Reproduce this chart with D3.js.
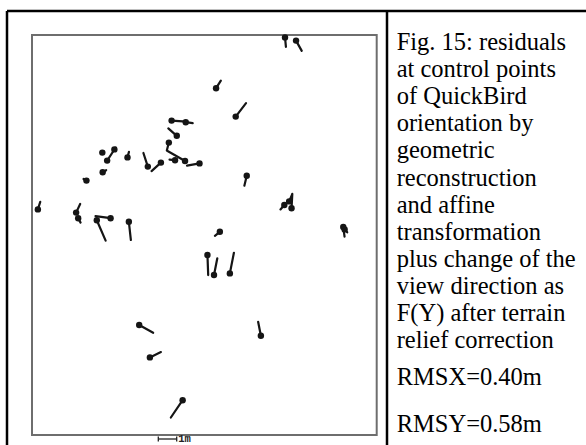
<!DOCTYPE html>
<html>
<head>
<meta charset="utf-8">
<script src="https://cdn.jsdelivr.net/npm/d3@7"></script>
<style>
  html, body { margin: 0; padding: 0; background: #fff; }
  svg { display: block; }
</style>
</head>
<body>
<script>
// ---- Data (image coordinates 0..1000, residuals in metres, N positive up) ----
const pointX = [734, 766, 534, 591, 405, 446, 420, 397, 444, 415, 486, 204, 218, 239, 277, 336, 374, 205, 158, 17, 128, 134, 188, 228, 281, 623, 753, 732, 746, 903, 907, 545, 509, 528, 574, 311, 342, 437, 664];
const pointY = [6, 14, 133, 204, 214, 218, 252, 269, 315, 313, 321, 294, 314, 286, 306, 329, 319, 343, 364, 436, 444, 458, 463, 458, 467, 352, 433, 425, 416, 480, 486, 492, 550, 600, 596, 725, 806, 913, 752];
const residX = [0.05, 0.31, 0.26, 0.56, 0.61, 0.38, -0.46, -0.11, -0.95, -0.30, -0.68, 0.09, 0.36, 0.08, 0.08, -0.24, -0.51, 0.19, -0.16, 0.13, 0.22, 0.13, 0.48, -0.82, 0.11, -0.13, 0.04, -0.21, 0.15, 0.07, 0.14, -0.27, 0.04, 0.18, 0.22, 0.76, 0.60, -0.64, -0.15];
const residY = [-0.51, -0.56, 0.41, 0.73, -0.04, -0.05, 0.40, -0.43, 0.54, 0.03, -0.12, 0.05, 0.55, 0.10, 0.30, 0.74, -0.46, 0.11, 0.09, 0.41, 0.47, -0.24, -1.11, 0.11, -0.99, -0.54, 0.78, -0.24, 0.35, -0.52, -0.16, -0.22, -1.09, 0.91, 1.12, -0.42, 0.29, -0.94, 0.76];
const scaleBarMetres = 1;
const scaleBarLabel = "1m";
const captionLines = [
  "Fig. 15: residuals",
  "at control points",
  "of QuickBird",
  "orientation by",
  "geometric",
  "reconstruction",
  "and affine",
  "transformation",
  "plus change of the",
  "view direction as",
  "F(Y) after terrain",
  "relief correction"
];
const rmsLines = ["RMSX=0.40m", "RMSY=0.58m"];

// ---- Layout ----
const W = 586, H = 445;
const plot = { left: 32, top: 35, right: 376.7, bottom: 435 };

const svg = d3.select("body").append("svg")
  .attr("width", W).attr("height", H);

svg.append("rect").attr("width", W).attr("height", H).attr("fill", "#fff");

// Outer table frame
const frame = svg.append("g").attr("stroke", "#000").attr("stroke-width", 2.5);
frame.append("line").attr("x1", 7).attr("x2", W).attr("y1", 11).attr("y2", 11);
frame.append("line").attr("x1", 7).attr("x2", 7).attr("y1", 11).attr("y2", H);
frame.append("line").attr("x1", 387).attr("x2", 387).attr("y1", 11).attr("y2", H);

// Scales
const x = d3.scaleLinear().domain([0, 1000]).range([plot.left, plot.right]);
const y = d3.scaleLinear().domain([0, 1000]).range([plot.top, plot.bottom]);
const vec = d3.scaleLinear().domain([0, 1]).range([0, 18.4]);

// Plot box
svg.append("rect")
  .attr("x", plot.left).attr("y", plot.top)
  .attr("width", plot.right - plot.left).attr("height", plot.bottom - plot.top)
  .attr("fill", "none").attr("stroke", "#6e6e6e").attr("stroke-width", 2);

const pts = pointX.map((px, i) => ({ x: px, y: pointY[i], dx: residX[i], dy: residY[i] }));

const g = svg.append("g");
g.selectAll("line.res").data(pts).join("line")
  .attr("class", "res")
  .attr("x1", d => x(d.x)).attr("y1", d => y(d.y))
  .attr("x2", d => x(d.x) + vec(d.dx)).attr("y2", d => y(d.y) - vec(d.dy))
  .attr("stroke", "#151515").attr("stroke-width", 2.2).attr("stroke-linecap", "round");
g.selectAll("circle.pt").data(pts).join("circle")
  .attr("class", "pt")
  .attr("cx", d => x(d.x)).attr("cy", d => y(d.y)).attr("r", 3.2)
  .attr("fill", "#151515");

// Scale bar
const sbX = 158.3, sbY = 439;
const sb = svg.append("g").attr("stroke", "#222").attr("stroke-width", 1.3);
sb.append("line").attr("x1", sbX).attr("x2", sbX + vec(scaleBarMetres)).attr("y1", sbY).attr("y2", sbY);
sb.append("line").attr("x1", sbX).attr("x2", sbX).attr("y1", sbY - 2.5).attr("y2", sbY + 2.5);
sb.append("line").attr("x1", sbX + vec(scaleBarMetres)).attr("x2", sbX + vec(scaleBarMetres)).attr("y1", sbY - 2.5).attr("y2", sbY + 2.5);
svg.append("text")
  .attr("x", sbX + vec(scaleBarMetres) + 1.5).attr("y", 441.5)
  .attr("font-family", "Liberation Mono, DejaVu Sans Mono, monospace")
  .attr("font-weight", "bold").attr("font-size", 10.5).attr("fill", "#222")
  .text(scaleBarLabel);

// Caption
const cap = svg.append("g")
  .attr("font-family", "Liberation Serif, 'Times New Roman', serif")
  .attr("font-size", 24.5).attr("fill", "#000");
cap.selectAll("text.cl").data(captionLines).join("text")
  .attr("class", "cl")
  .attr("x", 396.7).attr("y", (d, i) => 50 + i * 27.1)
  .text(d => d);
cap.selectAll("text.rms").data(rmsLines).join("text")
  .attr("class", "rms")
  .attr("x", 396.7).attr("y", (d, i) => [385, 432][i])
  .text(d => d);
</script>
</body>
</html>
